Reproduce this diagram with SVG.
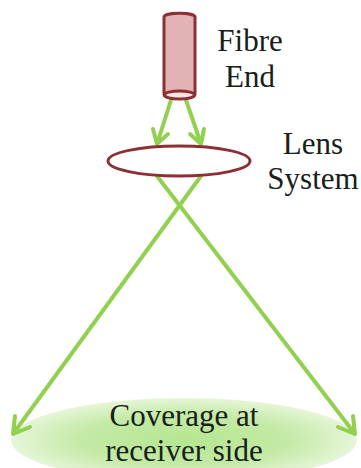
<svg xmlns="http://www.w3.org/2000/svg" width="361" height="468" viewBox="0 0 361 468">
<style>
text{font-family:"Liberation Serif",serif;font-size:31px;fill:#17201a;text-anchor:middle}
.ray{fill:none;stroke:#92d050;stroke-width:4;stroke-linecap:round;stroke-linejoin:round}
.edge{stroke:#8c3036;stroke-width:3}
</style>
<defs>
<radialGradient id="cov" cx="0.5" cy="0.5" r="0.5">
<stop offset="0" stop-color="#b6e690"/>
<stop offset="0.6" stop-color="#c4eaa6"/>
<stop offset="1" stop-color="#e6f6d8"/>
</radialGradient>
</defs>
<g id="coverage">
<ellipse cx="184" cy="440" rx="173" ry="42" fill="url(#cov)"/>
<text x="184" y="426">Coverage at</text>
<text x="184" y="461">receiver side</text>
</g>
<g id="connectors">
<path class="ray" d="M171 100L157 144M153 129L157 144L168 134"/>
<path class="ray" d="M186 100L201 144M190 134L201 144L204 129"/>
<path class="ray" d="M157 176L355 434M338 427L355 434L353 416"/>
<path class="ray" d="M201 176L13 434M15 416L13 434L30 427"/>
</g>
<g id="fibre">
<path class="edge" fill="#e2b2b5" d="M164 17C164 12 195 12 195 17V94C195 100 164 100 164 94Z"/>
<ellipse class="edge" cx="179.500" cy="95" rx="15" ry="4" fill="#f6e4e4"/>
<text x="250" y="51">Fibre</text>
<text x="250" y="87">End</text>
</g>
<g id="lens">
<ellipse class="edge" cx="179" cy="161" rx="71" ry="15" fill="#fff"/>
<text x="313" y="154">Lens</text>
<text x="313" y="189">System</text>
</g>
</svg>
